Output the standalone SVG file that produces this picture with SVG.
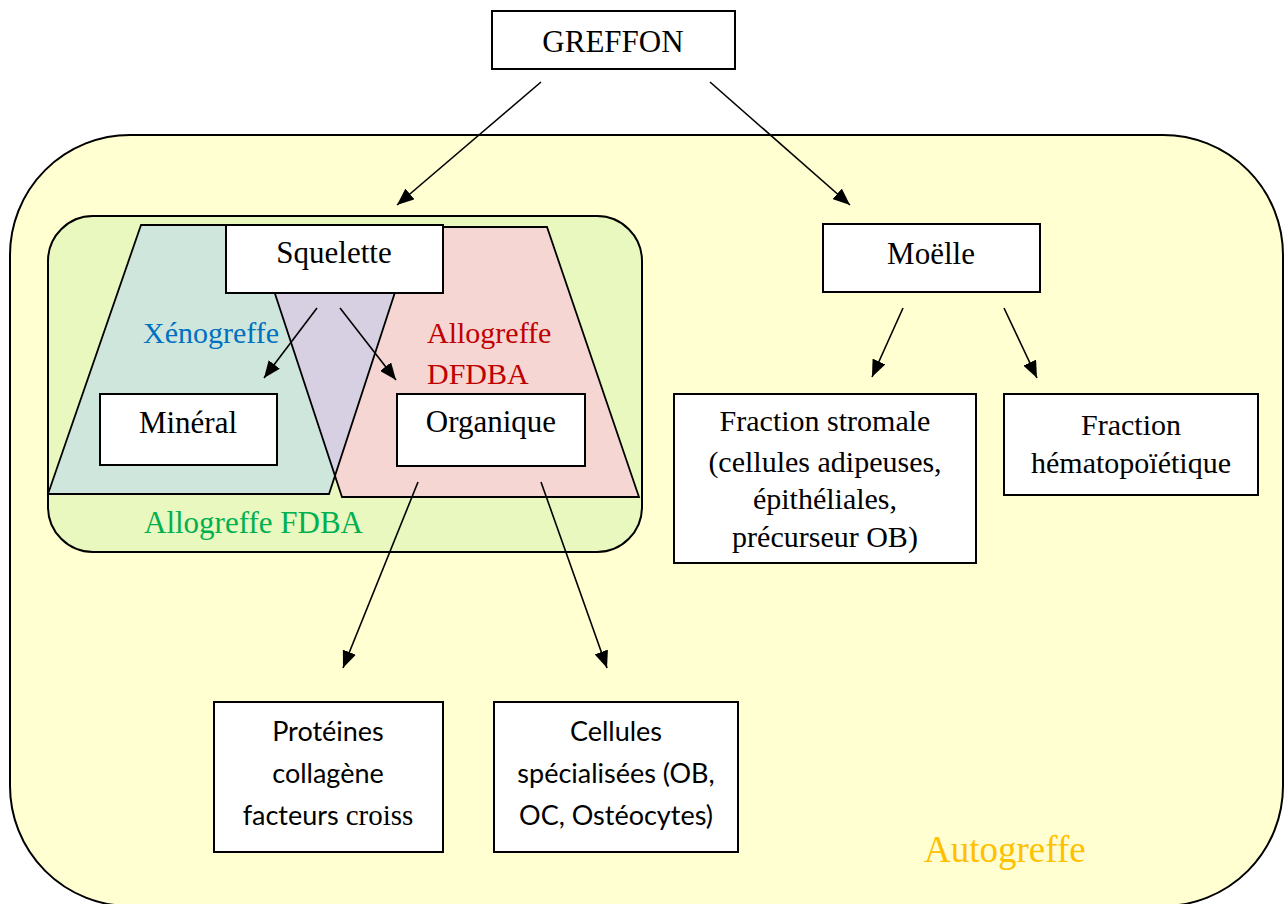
<svg xmlns="http://www.w3.org/2000/svg" width="1287" height="904" viewBox="0 0 1287 904">
<style>
.box{fill:#fff;stroke:#000;stroke-width:2}
.t{font-family:"Liberation Serif","Times New Roman",serif;font-size:31px;fill:#000;text-anchor:middle}
.c{font-family:Lato,"Open Sans",sans-serif;font-size:27px;fill:#000;text-anchor:middle}
.lbl{font-family:"Liberation Serif","Times New Roman",serif;font-size:30px}
.edge{stroke:#000;stroke-width:1.6;fill:none;marker-end:url(#ah)}
</style>
<defs>
<marker id="ah" markerUnits="userSpaceOnUse" markerWidth="18" markerHeight="14" refX="17" refY="7" orient="auto">
<path d="M0,0 L17,7 L0,14 z" fill="#000"/>
</marker>
</defs>
<rect width="1287" height="904" fill="#fff"/>
<g id="autogreffe">
<rect x="10" y="135" width="1273" height="771" rx="120" ry="120" fill="#FFFFD2" stroke="#000" stroke-width="2"/>
<text class="lbl" x="924" y="862" fill="#FFC000" style="font-size:37px">Autogreffe</text>
</g>
<g id="fdba">
<rect x="48" y="216" width="594" height="336" rx="45" ry="45" fill="#E9F8BE" stroke="#000" stroke-width="2"/>
<text class="lbl" x="144" y="533" fill="#00B050" style="font-size:31px">Allogreffe FDBA</text>
</g>
<g id="xenogreffe">
<polygon points="141,225 48,494 329,494 417,225" fill="#CEE6DC"/>
</g>
<g id="dfdba">
<polygon points="253,227 547,227 639,497 342,497" fill="#F5D6D2"/>
<polygon points="253,227 416,227 335,476" fill="#D6D0E2"/>
</g>
<g id="outlines" fill="none" stroke="#000" stroke-width="1.8">
<polygon points="141,225 48,494 329,494 417,225"/>
<polygon points="253,227 547,227 639,497 342,497"/>
</g>
<text class="lbl" x="143" y="343" fill="#0070C0">Xénogreffe</text>
<text class="lbl" x="427" y="343" fill="#C00000">Allogreffe</text>
<text class="lbl" x="427" y="384" fill="#C00000">DFDBA</text>
<g id="greffon">
<rect class="box" x="492" y="11" width="243" height="58"/>
<text class="t" x="613" y="52">GREFFON</text>
</g>
<g id="squelette">
<rect class="box" x="226" y="225" width="217" height="68"/>
<text class="t" x="334" y="263">Squelette</text>
</g>
<g id="mineral">
<rect class="box" x="100" y="394" width="177" height="71"/>
<text class="t" x="188" y="433">Minéral</text>
</g>
<g id="organique">
<rect class="box" x="397" y="394" width="188" height="72"/>
<text class="t" x="491" y="432">Organique</text>
</g>
<g id="moelle">
<rect class="box" x="823" y="224" width="217" height="68"/>
<text class="t" x="931" y="264">Moëlle</text>
</g>
<g id="stromale">
<rect class="box" x="674" y="394" width="302" height="169"/>
<text class="t" x="825" y="431" style="font-size:30px">Fraction stromale</text>
<text class="t" x="825" y="472" style="font-size:30px">(cellules adipeuses,</text>
<text class="t" x="825" y="509" style="font-size:30px">épithéliales,</text>
<text class="t" x="825" y="547" style="font-size:30px">précurseur OB)</text>
</g>
<g id="hemato">
<rect class="box" x="1004" y="394" width="254" height="101"/>
<text class="t" x="1131" y="435" style="font-size:30px">Fraction</text>
<text class="t" x="1131" y="473" style="font-size:30px">hématopoïétique</text>
</g>
<g id="proteines">
<rect class="box" x="214" y="702" width="229" height="150"/>
<text class="c" x="328" y="741">Protéines</text>
<text class="c" x="328" y="783">collagène</text>
<text class="c" x="328" y="825">facteurs <tspan style="font-family:'Liberation Serif',serif;font-size:29px">croiss</tspan></text>
</g>
<g id="cellules">
<rect class="box" x="494" y="702" width="244" height="150"/>
<text class="c" x="616" y="741">Cellules</text>
<text class="c" x="616" y="783">spécialisées (OB,</text>
<text class="c" x="616" y="825">OC, Ostéocytes)</text>
</g>
<g id="connectors">
<line class="edge" x1="541" y1="82" x2="397" y2="205"/>
<line class="edge" x1="710" y1="82" x2="850" y2="205"/>
<line class="edge" x1="317" y1="308" x2="264" y2="378"/>
<line class="edge" x1="340" y1="308" x2="396" y2="380"/>
<line class="edge" x1="903" y1="308" x2="872" y2="377"/>
<line class="edge" x1="1004" y1="308" x2="1037" y2="378"/>
<line class="edge" x1="418" y1="482" x2="343" y2="668"/>
<line class="edge" x1="541" y1="482" x2="607" y2="668"/>
</g>
</svg>
